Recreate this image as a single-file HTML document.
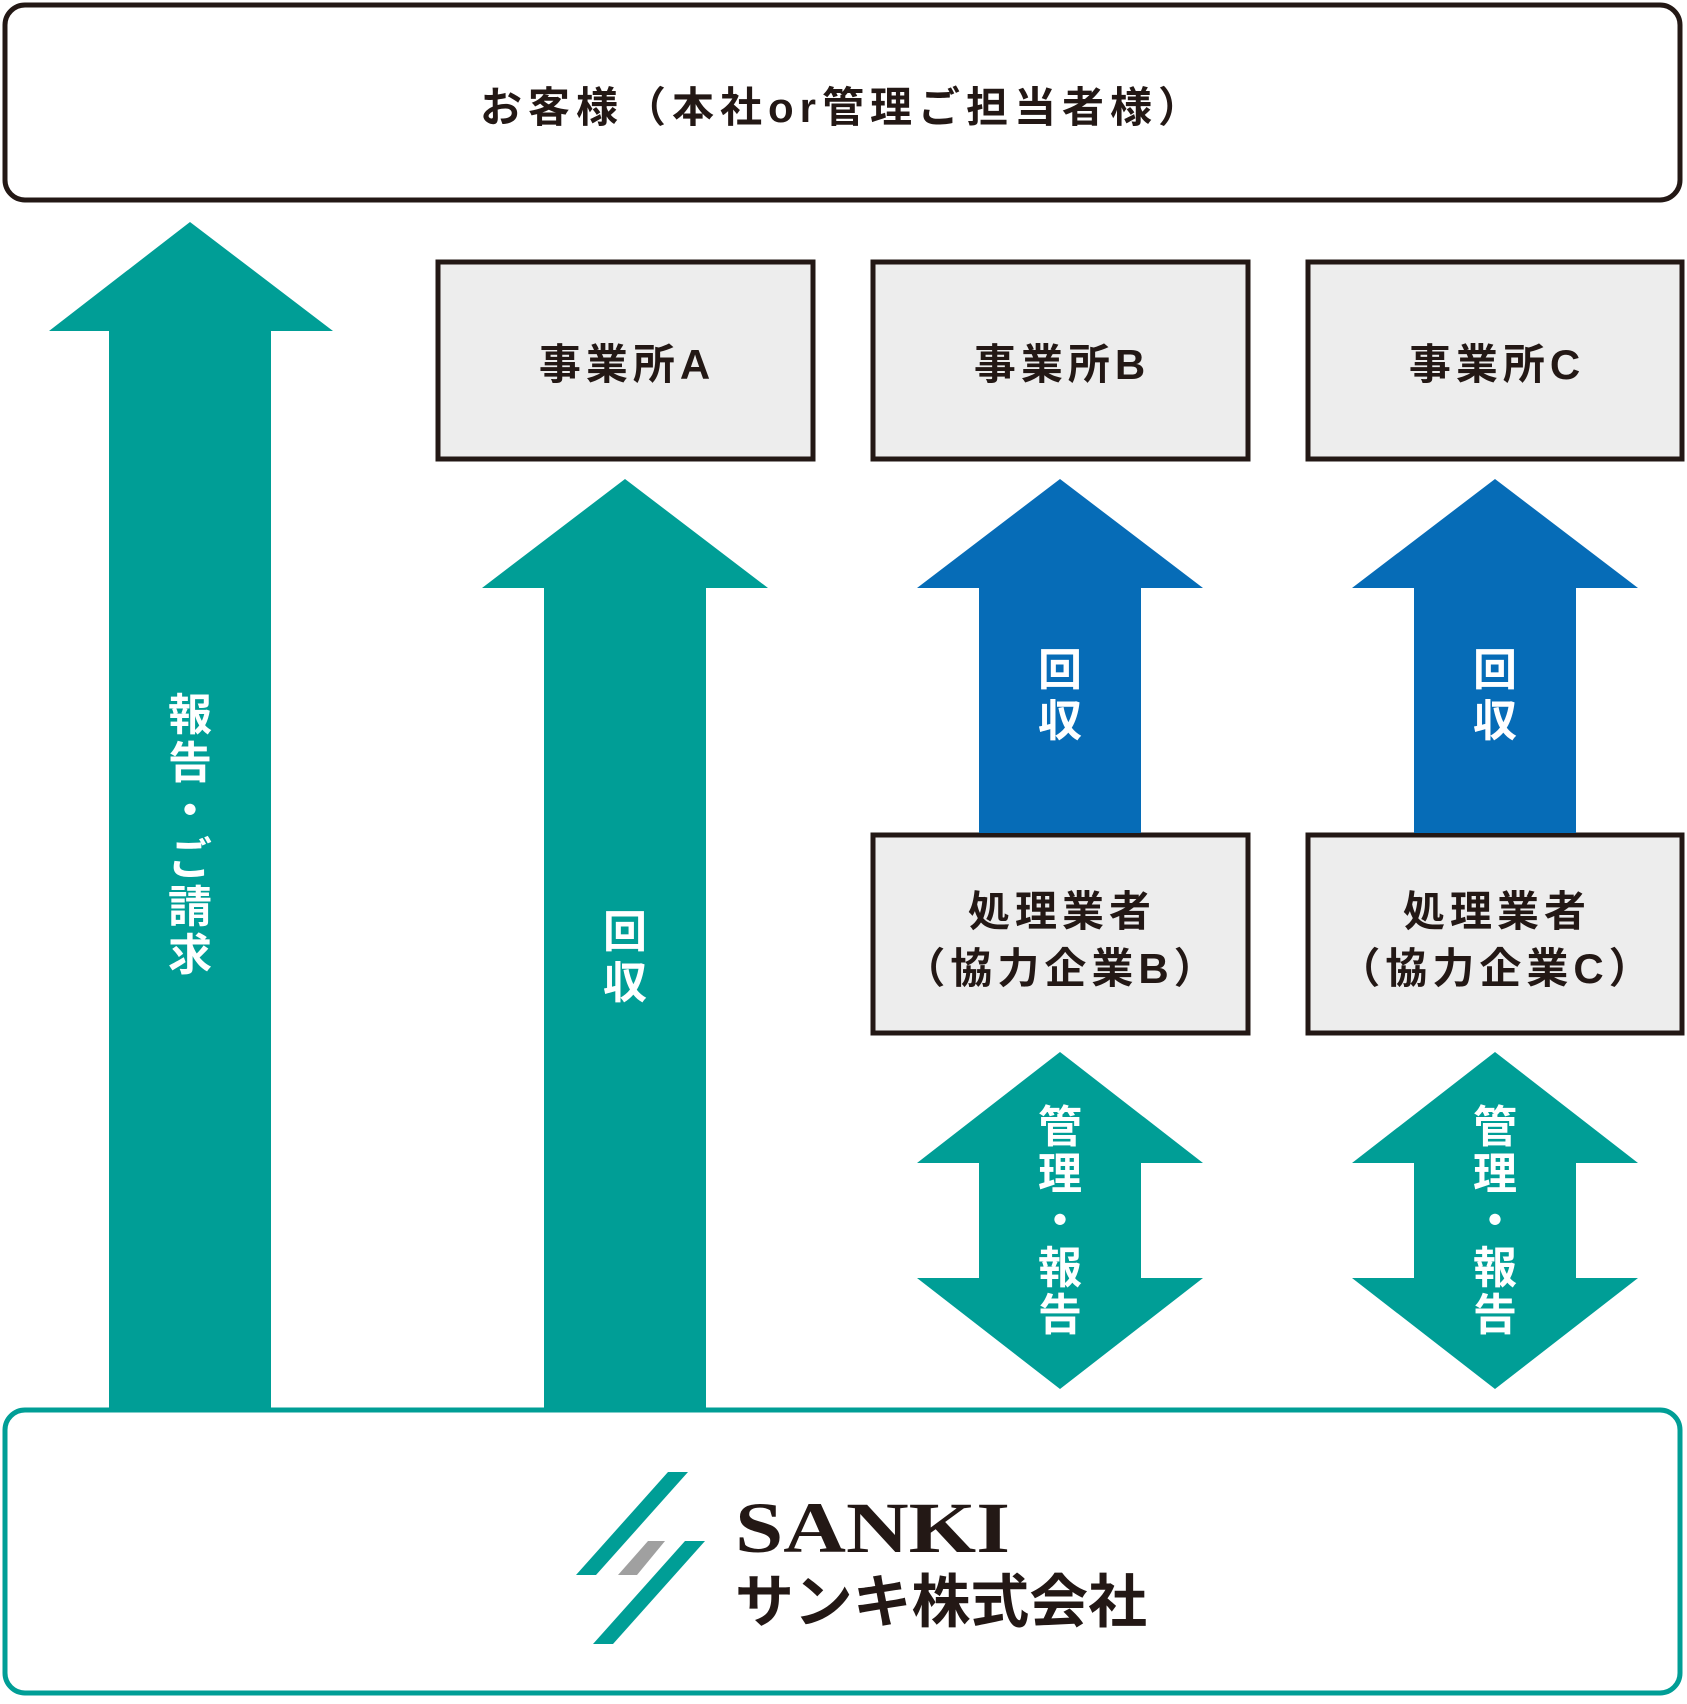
<!DOCTYPE html>
<html><head><meta charset="utf-8"><style>
html,body{margin:0;padding:0;background:#fff;}
svg text{font-family:"Liberation Sans","Noto Sans CJK JP",sans-serif;font-weight:bold;}
</style></head><body>
<svg width="1687" height="1699" viewBox="0 0 1687 1699" xmlns="http://www.w3.org/2000/svg">
<rect x="5" y="5" width="1675" height="195" rx="20" fill="#fff" stroke="#231815" stroke-width="5"/>
<text x="843" y="122" font-size="42" text-anchor="middle" fill="#231815" letter-spacing="6">お客様（本社or管理ご担当者様）</text>

<g fill="#ededed" stroke="#231815" stroke-width="5">
<rect x="438" y="262" width="375" height="197"/>
<rect x="873" y="262" width="375" height="197"/>
<rect x="1308" y="262" width="374" height="197"/>
<rect x="873" y="835" width="375" height="198"/>
<rect x="1308" y="835" width="374" height="198"/>
</g>
<g font-size="42" text-anchor="middle" fill="#231815" letter-spacing="5">
<text x="627" y="379">事業所A</text>
<text x="1062" y="379">事業所B</text>
<text x="1497" y="379">事業所C</text>
<text x="1062" y="926">処理業者</text>
<text x="1062" y="983">（協力企業B）</text>
<text x="1497" y="926">処理業者</text>
<text x="1497" y="983">（協力企業C）</text>
</g>

<g fill="#009e96">
<polygon points="190,222 333,331 271,331 271,1408 109,1408 109,331 49,331"/>
<polygon points="625,479 768,588 706,588 706,1408 544,1408 544,588 482,588"/>
<polygon points="1060,1052 1203,1163 1141,1163 1141,1278 1203,1278 1060,1389 917,1278 979,1278 979,1163 917,1163"/>
<polygon points="1495,1052 1638,1163 1576,1163 1576,1278 1638,1278 1495,1389 1352,1278 1414,1278 1414,1163 1352,1163"/>
</g>
<g fill="#066cb7">
<polygon points="1060,479 1203,588 1141,588 1141,833 979,833 979,588 917,588"/>
<polygon points="1495,479 1638,588 1576,588 1576,833 1414,833 1414,588 1352,588"/>
</g>

<g font-size="44" text-anchor="middle" fill="#fff">
<text x="190" y="730">報</text><text x="190" y="778">告</text><text x="190" y="826">・</text><text x="190" y="874">ご</text><text x="190" y="922">請</text><text x="190" y="970">求</text>
<text x="625" y="947">回</text><text x="625" y="998">収</text>
<text x="1060" y="685">回</text><text x="1060" y="736">収</text>
<text x="1495" y="685">回</text><text x="1495" y="736">収</text>
<text x="1060" y="1142">管</text><text x="1060" y="1189">理</text><text x="1060" y="1236">・</text><text x="1060" y="1283">報</text><text x="1060" y="1330">告</text>
<text x="1495" y="1142">管</text><text x="1495" y="1189">理</text><text x="1495" y="1236">・</text><text x="1495" y="1283">報</text><text x="1495" y="1330">告</text>
</g>

<rect x="5" y="1410" width="1675" height="283" rx="20" fill="#fff" stroke="#009e96" stroke-width="5"/>
<g>
<polygon points="668,1472 688,1472 596,1575 576,1575" fill="#009e96"/>
<polygon points="685,1541 705,1541 613,1644 593,1644" fill="#009e96"/>
<polygon points="648,1541 665,1541 637,1575 618,1575" fill="#a0a0a0"/>
</g>
<text x="735" y="1552" font-size="72" fill="#231815" style="font-family:'Liberation Serif',serif;font-weight:bold" textLength="275" lengthAdjust="spacingAndGlyphs">SANKI</text>
<text x="735" y="1622" font-size="58" fill="#231815" textLength="412" lengthAdjust="spacingAndGlyphs">サンキ株式会社</text>
</svg>
</body></html>
